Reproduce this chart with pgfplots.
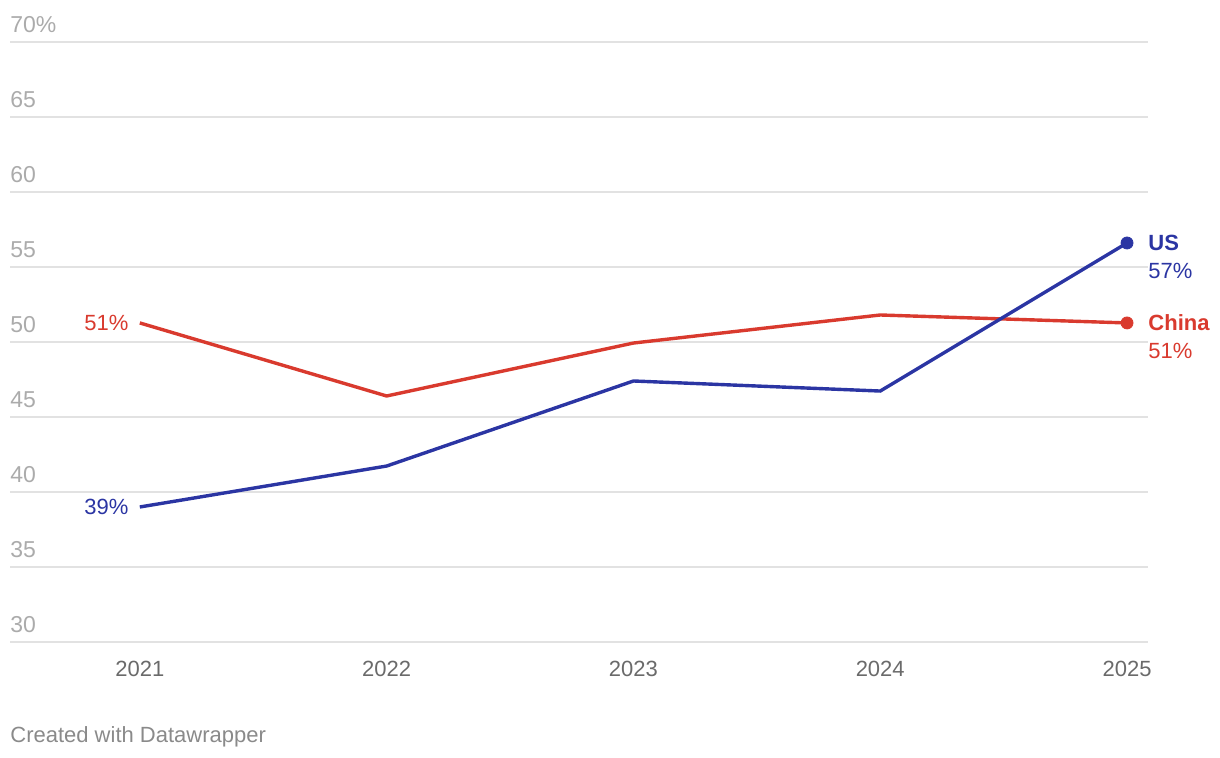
\documentclass[border=0pt]{standalone}
\usepackage{fontspec}
\setmainfont{Liberation Sans}
\usepackage{pgfplots}
\pgfplotsset{compat=1.18}

\definecolor{usblue}{HTML}{2B35A3}
\definecolor{cnred}{HTML}{D93A2E}
\definecolor{gridgray}{HTML}{E2E2E2}
\definecolor{ylab}{HTML}{ABABAB}
\definecolor{xlab}{HTML}{6A6A6A}
\definecolor{credit}{HTML}{8A8A8A}

\begin{document}
\begin{tikzpicture}
\useasboundingbox (-5pt,-58pt) rectangle (605pt,321pt);
\begin{axis}[
  at={(0,0)}, anchor=south west,
  scale only axis, width=569pt, height=300pt,
  xmin=2020.474, xmax=2025.085, ymin=30, ymax=70,
  axis line style={draw=none},
  major tick length=0pt,
  xtick={2021,2022,2023,2024,2025},
  ytick={30,35,40,45,50,55,60,65,70},
  yticklabels={30,35,40,45,50,55,60,65,70\%},
  xticklabels={2021,2022,2023,2024,2025},
  ymajorgrids=true,
  grid style={gridgray, line width=1pt},
  /pgf/number format/assume math mode=true,
  yticklabel style={anchor=south west, inner sep=0pt, xshift=0pt, yshift=4.5pt,
    font=\fontsize{11.5}{13}\selectfont, text=ylab},
  xticklabel style={anchor=north, inner sep=0pt, yshift=-9.5pt,
    font=\fontsize{11}{13}\selectfont, text=xlab},
  clip=false,
]
% China
\addplot[cnred, line width=1.7pt] coordinates {
  (2021,51.27) (2022,46.4) (2023,49.93) (2024,51.8) (2025,51.27)
};
% US
\addplot[usblue, line width=1.7pt] coordinates {
  (2021,39.0) (2022,41.73) (2023,47.4) (2024,46.73) (2025,56.6)
};
\addplot[cnred, only marks, mark=*, mark size=3pt] coordinates {(2025,51.27)};
\addplot[usblue, only marks, mark=*, mark size=3pt] coordinates {(2025,56.6)};

\node[anchor=east, inner sep=0pt, xshift=-5.5pt, text=cnred, font=\fontsize{11}{13}\selectfont] at (axis cs:2021,51.27) {51\%};
\node[anchor=east, inner sep=0pt, xshift=-5.5pt, text=usblue, font=\fontsize{11}{13}\selectfont] at (axis cs:2021,39.0) {39\%};

\node[anchor=west, inner sep=0pt, xshift=10.5pt, text=usblue, font=\bfseries\fontsize{11}{13}\selectfont] at (axis cs:2025,56.6) {US};
\node[anchor=west, inner sep=0pt, xshift=10.5pt, yshift=-14pt, text=usblue, font=\fontsize{11}{13}\selectfont] at (axis cs:2025,56.6) {57\%};
\node[anchor=west, inner sep=0pt, xshift=10.5pt, text=cnred, font=\bfseries\fontsize{11}{13}\selectfont] at (axis cs:2025,51.27) {China};
\node[anchor=west, inner sep=0pt, xshift=10.5pt, yshift=-14pt, text=cnred, font=\fontsize{11}{13}\selectfont] at (axis cs:2025,51.27) {51\%};
\end{axis}
\node[anchor=base west, inner sep=0pt, text=credit, font=\fontsize{11}{13}\selectfont] at (0pt,-50.5pt) {Created with Datawrapper};
\end{tikzpicture}
\end{document}
